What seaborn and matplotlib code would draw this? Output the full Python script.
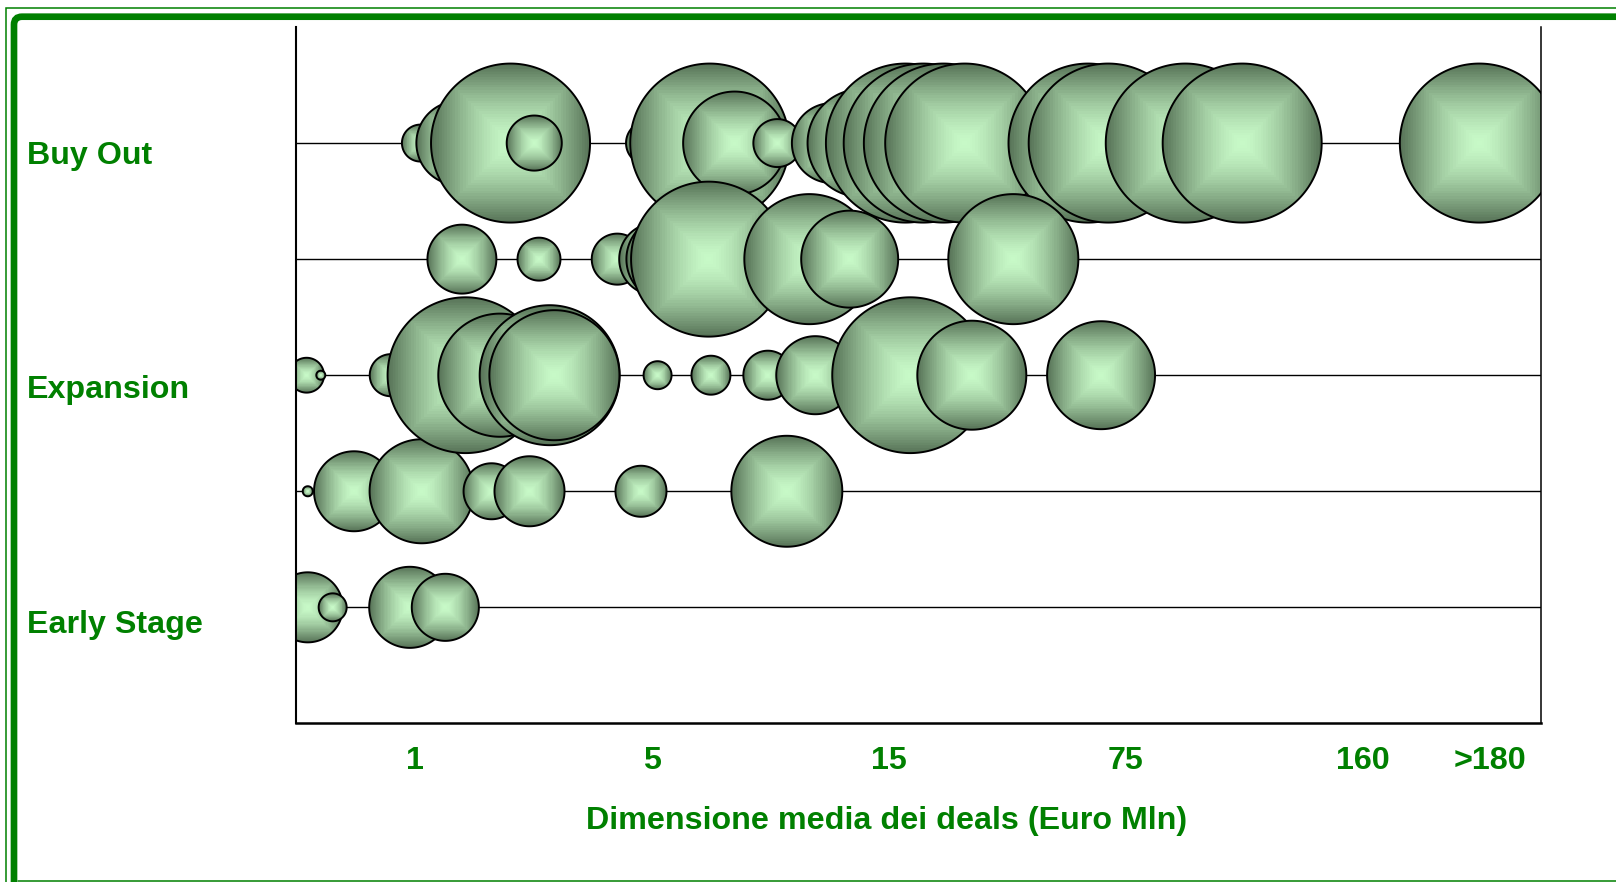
import numpy as np
import pandas as pd
import matplotlib
matplotlib.use("Agg")
import matplotlib.pyplot as plt
import matplotlib.transforms as mtransforms
from matplotlib.path import Path
from matplotlib.patches import FancyBboxPatch
from matplotlib.lines import Line2D
import seaborn as sns

sns.set_style("white")
plt.rcParams['font.family'] = ['Liberation Sans', 'DejaVu Sans']

# posizione sull'asse (scala a categorie della dimensione media) e peso della bolla, riga per riga
x_buy_out = [1.05, 1.37, 1.81, 2.01, 2.97, 3.49, 3.70, 4.06, 4.52, 4.77,
             5.14, 5.29, 5.46, 5.64, 6.68, 6.85, 7.50, 7.98, 9.98]
w_buy_out = [5.4, 27.9, 100, 12.0, 7.7, 100, 42, 9.1, 25.3, 46.1,
             100, 100, 100, 100, 100, 100, 100, 100, 100]

x_riga4 = [1.40, 2.05, 2.71, 3.03, 3.15, 3.48, 4.33, 4.67, 6.05]
w_riga4 = [18.8, 7.3, 10.3, 20.5, 29.3, 95, 66.9, 37.2, 66.9]

x_expansion = [0.09, 0.21, 0.80, 1.43, 1.72, 2.14, 2.18, 3.05, 3.50, 3.98,
               4.38, 5.18, 5.70, 6.79]
w_expansion = [4.8, 0.32, 7.0, 96, 60, 77.5, 66.9, 3.1, 6.0, 9.5,
               24.1, 96, 47, 46.1]

x_riga2 = [0.10, 0.49, 1.06, 1.65, 1.97, 2.91, 4.14]
w_riga2 = [0.4, 25.3, 42.8, 12.4, 19.4, 10.3, 48.7]

x_early = [0.10, 0.31, 0.96, 1.26]
w_early = [19.4, 3.1, 26, 17.8]

tick_labels = ['', '1', '', '5', '', '15', '', '75', '', '160', '>180']
row_labels = [(4.89, 'Buy Out'), (2.875, 'Expansion'), (0.85, 'Early Stage')]

# ordine di disegno delle righe come nell'originale
rows = [(5, x_buy_out, w_buy_out), (4, x_riga4, w_riga4), (2, x_riga2, w_riga2),
        (3, x_expansion, w_expansion), (1, x_early, w_early)]
df = pd.concat([pd.DataFrame({'x': xs, 'y': yv, 'peso': ws}) for yv, xs, ws in rows],
               ignore_index=True)

GREEN = '#008000'
FS = 23.2
W, H = 1616, 882
fig = plt.figure(figsize=(W / 100, H / 100), dpi=100)
ax = fig.add_axes([295.9 / W, 1 - 723.4 / H, (1541 - 295.9) / W, (723.4 - 27) / H])

max_d = 159 * 0.72  # diametro della bolla piu' grande, in punti
sns.scatterplot(data=df, x='x', y='y', size='peso', sizes=(0, max_d ** 2),
                size_norm=(0, 100), legend=False, ax=ax, zorder=2)

# sfumatura "dal centro" rettangolare, come le bolle di Excel
dark = np.array([0x58, 0x74, 0x58]) / 255
light = np.array([0xc8, 0xfa, 0xc8]) / 255
theta = np.linspace(0, 2 * np.pi, 361)
m = np.maximum(np.abs(np.cos(theta)), np.abs(np.sin(theta)))


def layer(t):
    r = 0.5 * np.minimum(1.0, t / m)
    return Path(np.column_stack([r * np.cos(theta), r * np.sin(theta)]), closed=True)


levels = np.linspace(1, 0.03, 30)
layer_paths = [layer(t) for t in levels]
layer_cols = [tuple(light + (dark - light) * t ** 1.5) + (1,) for t in levels]
circle = layer(1.0)

pts = ax.collections[0]
offs0, sz0 = pts.get_offsets(), pts.get_sizes()
paths, offs, szs, fcs, ecs, lws = [], [], [], [], [], []
for (px, py), s in zip(offs0, sz0):
    for p, c in zip(layer_paths, layer_cols):
        paths.append(p); offs.append((px, py)); szs.append(s)
        fcs.append(c); ecs.append('none'); lws.append(0)
    paths.append(circle); offs.append((px, py)); szs.append(s)
    fcs.append('none'); ecs.append('black'); lws.append(1.4)
pts.set_paths(paths)
pts.set_offsets(offs)
pts.set_sizes(szs)
pts.set_facecolor(fcs)
pts.set_edgecolor(ecs)
pts.set_linewidths(lws)

for yv in range(1, 6):
    ax.axhline(yv, color='black', lw=1.0, zorder=1)

ax.set_xlim(0, 10.5)
ax.set_ylim(0, 6)
ax.set_xticks(range(11))
ax.set_xticklabels(tick_labels, fontsize=FS, fontweight='bold', color=GREEN)
ax.set_yticks(range(7))
ax.set_yticklabels([])
ax.tick_params(axis='x', direction='out', length=4.7, width=1.0, color='black', pad=11.5)
ax.tick_params(axis='y', direction='out', length=3, width=1.0, color='black')
# ">180" e' spostato un po' a destra nell'originale
last = ax.get_xticklabels()[-1]
last.set_transform(last.get_transform() + mtransforms.ScaledTranslation(0.08, 0, fig.dpi_scale_trans))
ax.set_ylabel('')
ax.set_xlabel('Dimensione media dei deals (Euro Mln)', fontsize=FS,
              fontweight='bold', color=GREEN)
ax.xaxis.set_label_coords(0.474, -0.14)
ax.xaxis.label.set_va('center')

ax.spines['top'].set_visible(False)
for side, lw in [('left', 1.5), ('bottom', 1.8), ('right', 1.1)]:
    ax.spines[side].set_visible(True)
    ax.spines[side].set_color('black')
    ax.spines[side].set_linewidth(lw)

trans = mtransforms.blended_transform_factory(fig.transFigure, ax.transData)
for yv, txt in row_labels:
    fig.text(26.8 / W, yv, txt, transform=trans, ha='left', va='center',
             fontsize=FS, fontweight='bold', color=GREEN)

# cornice verde
inch = fig.dpi_scale_trans
fig.add_artist(FancyBboxPatch((0.14, -1), 20, 1 + (H - 16.7) / 100,
                              boxstyle='round,pad=0,rounding_size=0.08',
                              transform=inch, fill=False, ec=GREEN, lw=4.8))
fig.add_artist(FancyBboxPatch((0.055, -1), 20, 1 + (H - 7.8) / 100,
                              boxstyle='square,pad=0',
                              transform=inch, fill=False, ec=GREEN, lw=1.1))
fig.add_artist(Line2D([0.18, 20], [0.014, 0.014], transform=inch, color=GREEN, lw=1.1))

fig.savefig('out.png', dpi=100)
